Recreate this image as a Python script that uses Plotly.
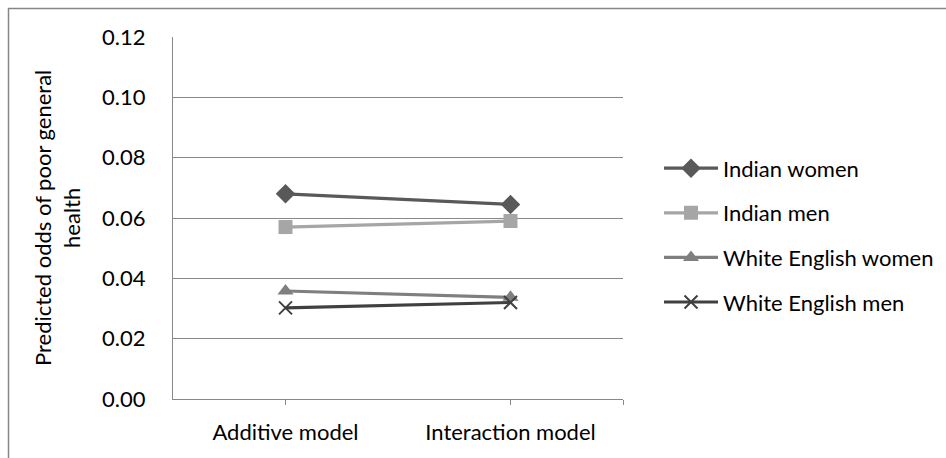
import plotly.graph_objects as go

# Predicted odds of poor general health by model
categories = ["Additive model", "Interaction model"]
series_names = ["Indian women", "Indian men", "White English women", "White English men"]
indian_women = [0.0680, 0.0645]
indian_men = [0.0570, 0.0590]
white_women = [0.0358, 0.0337]
white_men = [0.0302, 0.0320]
y_ticks = [0.00, 0.02, 0.04, 0.06, 0.08, 0.10, 0.12]

values = [indian_women, indian_men, white_women, white_men]
colors = ["#595959", "#A6A6A6", "#7F7F7F", "#404040"]
symbols = ["diamond", "square", "triangle-up", "x-thin"]
sizes = [15, 14, 14, 13]

FONT = "Lato"
FS = 22
GRID = "#888888"

fig = go.Figure()
x_idx = list(range(len(categories)))
for name, vals, col, sym, sz in zip(series_names, values, colors, symbols, sizes):
    marker = dict(symbol=sym, size=sz, color=col)
    if sym == "x-thin":
        marker["line"] = dict(color=col, width=2)
    else:
        marker["line"] = dict(width=0)
    fig.add_trace(go.Scatter(
        x=x_idx, y=vals, name=name, mode="lines+markers",
        line=dict(color=col, width=3.2), marker=marker,
        legendgroup=name,
    ))

fig.update_layout(
    width=946, height=458,
    margin=dict(l=173, r=323, t=37, b=59, autoexpand=False),
    paper_bgcolor="white", plot_bgcolor="white",
    font=dict(family=FONT, size=FS, color="#000000"),
    showlegend=True,
    legend=dict(
        x=1.08, xanchor="left", y=0.452, yanchor="middle",
        font=dict(family=FONT, size=FS, color="#000000"),
        tracegroupgap=13, itemwidth=54,
        bgcolor="rgba(0,0,0,0)",
    ),
    xaxis=dict(
        range=[-0.5, 1.5],
        tickvals=x_idx + [1.5],
        ticktext=categories + [""],
        ticks="outside", ticklen=5, tickcolor=GRID, tickwidth=1,
        showline=True, linecolor=GRID, linewidth=1,
        showgrid=False, zeroline=False,
        ticklabelstandoff=9,
        tickfont=dict(family=FONT, size=FS),
    ),
    yaxis=dict(
        range=[0, 0.12],
        tickvals=y_ticks,
        tickformat=".2f",
        showgrid=True, gridcolor=GRID, gridwidth=1,
        showline=True, linecolor=GRID, linewidth=1,
        zeroline=False, ticks="",
        ticklabelstandoff=22,
        tickfont=dict(family=FONT, size=FS),
    ),
    annotations=[dict(
        text="Predicted odds of poor general<br>health",
        xref="paper", yref="paper",
        x=(57 - 173) / 450, y=0.5,
        xanchor="center", yanchor="middle",
        textangle=-90, showarrow=False,
        font=dict(family=FONT, size=FS, color="#000000"),
    )],
    shapes=[dict(
        type="rect", xref="paper", yref="paper",
        x0=(8.5 - 173) / 450, x1=2.0,
        y0=-0.5, y1=1 + (37 - 8.5) / 362,
        line=dict(color="#868686", width=1.5),
        fillcolor="rgba(0,0,0,0)",
    )],
)

fig.write_html("out.html")
